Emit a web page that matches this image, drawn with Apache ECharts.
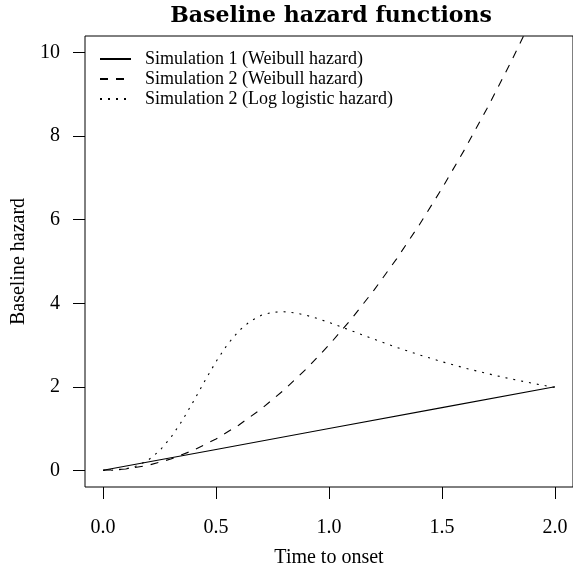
<!DOCTYPE html>
<html>
<head>
<meta charset="utf-8">
<script src="https://cdn.jsdelivr.net/npm/echarts@6/dist/echarts.min.js"></script>
<style>
html,body{margin:0;padding:0;background:#fff;}
#chart{width:573px;height:573px;}
</style>
</head>
<body>
<div id="chart"></div>
<script>
// ---- data ----
const titleText = 'Baseline hazard functions';
const xName = 'Time to onset';
const yName = 'Baseline hazard';
const seriesNames = ['Simulation 1 (Weibull hazard)', 'Simulation 2 (Weibull hazard)', 'Simulation 2 (Log logistic hazard)'];

const xTicks = [0, 0.5, 1.0, 1.5, 2.0];
const yTicks = [0, 2, 4, 6, 8, 10];

// Simulation 1 (Weibull): straight line
const sim1T = [0, 0.5, 1.0, 1.5, 2.0];
const sim1H = [0, 0.5, 1.0, 1.5, 2.0];

// Simulation 2 (Weibull)
const sim2T = [0, 0.1, 0.2, 0.3, 0.4, 0.5, 0.6, 0.7, 0.8, 0.9, 1.0, 1.1, 1.2, 1.3, 1.4, 1.5, 1.6, 1.7, 1.8, 1.9, 2.0];
const sim2H = [0, 0.03, 0.12, 0.27, 0.48, 0.75, 1.08, 1.47, 1.92, 2.43, 3.0, 3.63, 4.32, 5.07, 5.88, 6.75, 7.68, 8.67, 9.72, 10.83, 12.0];

// Simulation 2 (Log logistic)
const llT = [0, 0.05, 0.1, 0.15, 0.2, 0.25, 0.3, 0.35, 0.4, 0.45, 0.5, 0.55, 0.6, 0.65, 0.7, 0.75, 0.8, 0.85, 0.9, 0.95, 1.0, 1.1, 1.2, 1.3, 1.4, 1.5, 1.6, 1.7, 1.8, 1.9, 2.0];
const llH = [0, 0.004, 0.031, 0.104, 0.244, 0.468, 0.784, 1.186, 1.650, 2.137, 2.603, 3.010, 3.333, 3.565, 3.711, 3.784, 3.798, 3.770, 3.711, 3.633, 3.541, 3.341, 3.137, 2.943, 2.764, 2.600, 2.451, 2.317, 2.195, 2.084, 1.984];

const zip = (a, b) => a.map((v, i) => [v, b[i]]);
const serif = '"Liberation Serif", "Times New Roman", serif';

const chart = echarts.init(document.getElementById('chart'), null, {renderer: 'canvas'});
const lineBase = {type: 'line', symbol: 'none', showSymbol: false, smooth: false, clip: true, animation: false};

chart.setOption({
  animation: false,
  backgroundColor: '#fff',
  title: {
    text: titleText,
    left: 326, top: 0, textAlign: 'center',
    textStyle: {fontFamily: '"DejaVu Serif", serif', fontWeight: 'bold', fontSize: 22, color: '#000'}
  },
  legend: {
    orient: 'vertical', left: 94, top: 45,
    itemWidth: 31, itemHeight: 10, itemGap: 2,
    itemStyle: {color: 'rgba(0,0,0,0)', borderWidth: 0, opacity: 0},
    textStyle: {fontFamily: serif, fontSize: 18, lineHeight: 17, color: '#000', padding: [0, 0, 0, 9]},
    data: seriesNames
  },
  grid: {left: 85, top: 36, width: 492, height: 454, show: true, borderColor: '#000', borderWidth: 1, backgroundColor: 'transparent', containLabel: false},
  xAxis: {
    type: 'value', min: -0.08, max: 2.08,
    name: xName, nameLocation: 'middle', nameGap: 61,
    nameTextStyle: {fontFamily: serif, fontSize: 20, color: '#000'},
    axisLine: {show: false, onZero: false},
    axisTick: {show: true, length: 12, inside: false, customValues: xTicks, lineStyle: {color: '#000', width: 1}},
    axisLabel: {customValues: xTicks, formatter: v => v.toFixed(1), fontFamily: serif, fontSize: 20, color: '#000', margin: 31},
    splitLine: {show: false}
  },
  yAxis: {
    type: 'value', min: -0.4, max: 10.4,
    name: yName, nameLocation: 'middle', nameGap: 53, nameRotate: 90,
    nameTextStyle: {fontFamily: serif, fontSize: 20, color: '#000'},
    axisLine: {show: false, onZero: false},
    axisTick: {show: true, length: 12, inside: false, customValues: yTicks, lineStyle: {color: '#000', width: 1}},
    axisLabel: {customValues: yTicks, formatter: v => String(v), fontFamily: serif, fontSize: 20, color: '#000', margin: 25},
    splitLine: {show: false}
  },
  series: [
    Object.assign({}, lineBase, {name: seriesNames[0], data: zip(sim1T, sim1H), lineStyle: {color: '#000', width: 1.1, type: 'solid'}, itemStyle: {color: '#000'}}),
    Object.assign({}, lineBase, {name: seriesNames[1], data: zip(sim2T, sim2H), lineStyle: {color: '#000', width: 1.1, type: [8, 8]}, itemStyle: {color: '#000'}}),
    Object.assign({}, lineBase, {name: seriesNames[2], data: zip(llT, llH), lineStyle: {color: '#000', width: 1.1, type: [2, 6]}, itemStyle: {color: '#000'}})
  ]
});
</script>
</body>
</html>
